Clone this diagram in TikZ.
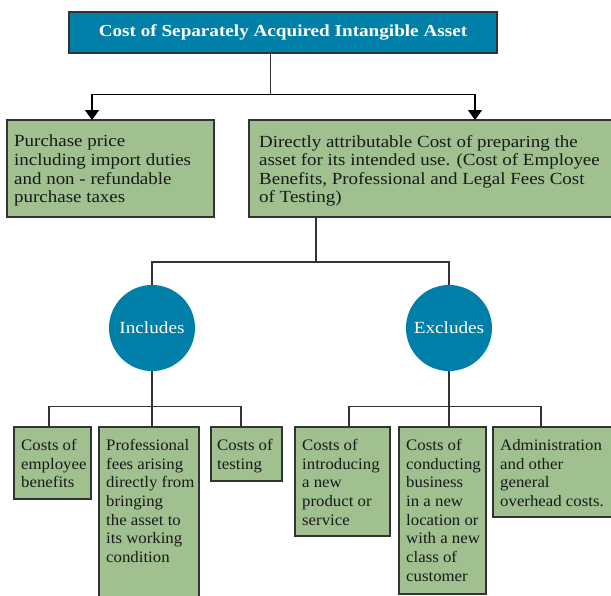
\documentclass[tikz,border=0pt]{standalone}
\usepackage{fontspec}
\setmainfont{Liberation Serif}
\newfontfamily\topfont[FakeStretch=1.115]{Liberation Serif}
\newfontfamily\titlefont[FakeStretch=1.14]{Liberation Serif}
\newfontfamily\botfont[FakeStretch=1.05]{Liberation Serif}
\newfontfamily\circfont[FakeStretch=1.13]{Liberation Serif}
\usetikzlibrary{arrows.meta,calc}
\definecolor{tealc}{HTML}{0080A8}
\definecolor{greenc}{HTML}{A0C090}
\definecolor{linec}{HTML}{333333}
\begin{document}
\begin{tikzpicture}[x=1pt,y=-1pt,
  conn/.style={draw=linec,line width=1.3pt},
  arr/.style={conn,-{Triangle[width=14pt,length=10pt]},color=black},
  gbox/.style={draw=linec,line width=1.3pt,fill=greenc,anchor=north west,inner sep=0pt,outer sep=0pt},
  gtext/.style={anchor=north west,inner sep=0pt,align=left,font=\topfont\fontsize{17}{18.6}\selectfont,text=black!90},
  stext/.style={anchor=north west,inner sep=0pt,align=left,font=\botfont\fontsize{16}{18.7}\selectfont,text=black!90},
  titlebox/.style={draw=linec,line width=1.3pt,fill=tealc,text=white,font=\titlefont\fontsize{16.8}{18}\selectfont\bfseries,minimum width=428pt,minimum height=41pt,inner sep=0pt},
  circ/.style={circle,fill=tealc,text=white,minimum size=86pt,inner sep=0pt,font=\circfont\fontsize{17}{18}\selectfont}]
\useasboundingbox (0,0) rectangle (611,595);
% title
\node[titlebox] (top) at (283,32.5) {Cost of Separately Acquired Intangible Asset};
% level 2 boxes
\node[gbox,minimum width=207pt,minimum height=97pt] (b1) at (7,120) {};
\node[gtext] (t1) at ($(b1.north west)+(7,15)$) {Purchase price\\including import duties\\and non - refundable\\purchase taxes};
\node[gbox,minimum width=366pt,minimum height=97pt] (b2) at (249,120) {};
\node[gtext] (t2) at ($(b2.north west)+(10,15)$) {Directly attributable Cost of preparing the\\asset for its intended use. (Cost of Employee\\Benefits, Professional and Legal Fees Cost\\of Testing)};
% connectors top
\coordinate (j1) at ($(top.south west)+(202,41)$);
\draw[conn] ($(top.south west)+(202,0)$) -- (j1);
\draw[arr] (j1) -| ($(b1.north west)+(85,0)$);
\draw[arr] (j1) -| ($(b2.north west)+(226,0)$);
% circles
\node[circ] (inc) at (152,328) {Includes};
\node[circ] (exc) at (449,328) {Excludes};
\coordinate (h2) at ($(b2.south west)+(67,45)$);
\draw[conn] ($(b2.south west)+(67,0)$) -- (h2);
\draw[conn] (inc.north) |- (h2) -| (exc.north);
% bottom boxes
\node[gbox,minimum width=77pt,minimum height=72pt] (bA) at (14,427) {};
\node[stext] (tA) at ($(bA.north west)+(7,12)$) {Costs of\\employee\\benefits};
\node[gbox,minimum width=100pt,minimum height=175pt] (bB) at (99,427) {};
\node[stext] (tB) at ($(bB.north west)+(7,12)$) {Professional\\fees arising\\directly from\\bringing\\the asset to\\its working\\condition};
\node[gbox,minimum width=71pt,minimum height=54pt] (bC) at (211,427) {};
\node[stext] (tC) at ($(bC.north west)+(6,12)$) {Costs of\\testing};
\node[gbox,minimum width=95pt,minimum height=109pt] (bD) at (295,427) {};
\node[stext] (tD) at ($(bD.north west)+(7,12)$) {Costs of\\introducing\\a new\\product or\\service};
\node[gbox,minimum width=87pt,minimum height=167pt] (bE) at (399,427) {};
\node[stext] (tE) at ($(bE.north west)+(7,12)$) {Costs of\\conducting\\business\\in a new\\location or\\with a new\\class of\\customer};
\node[gbox,minimum width=122pt,minimum height=90pt] (bF) at (493,427) {};
\node[stext] (tF) at ($(bF.north west)+(7,12)$) {Administration\\and other\\general\\overhead costs.};
% includes connectors
\coordinate (hi) at ($(inc.south)+(0,35)$);
\draw[conn] (inc.south) -- (hi);
\draw[conn] ($(bA.north west)+(35,0)$) |- (hi) -| ($(bC.north west)+(30,0)$);
\draw[conn] (hi) -- (hi |- bB.north);
% excludes connectors
\coordinate (he) at ($(exc.south)+(0,35)$);
\draw[conn] (exc.south) -- (he);
\draw[conn] ($(bD.north west)+(54,0)$) |- (he) -| ($(bF.north west)+(48,0)$);
\draw[conn] (he) -- (he |- bE.north);
\end{tikzpicture}
\end{document}
